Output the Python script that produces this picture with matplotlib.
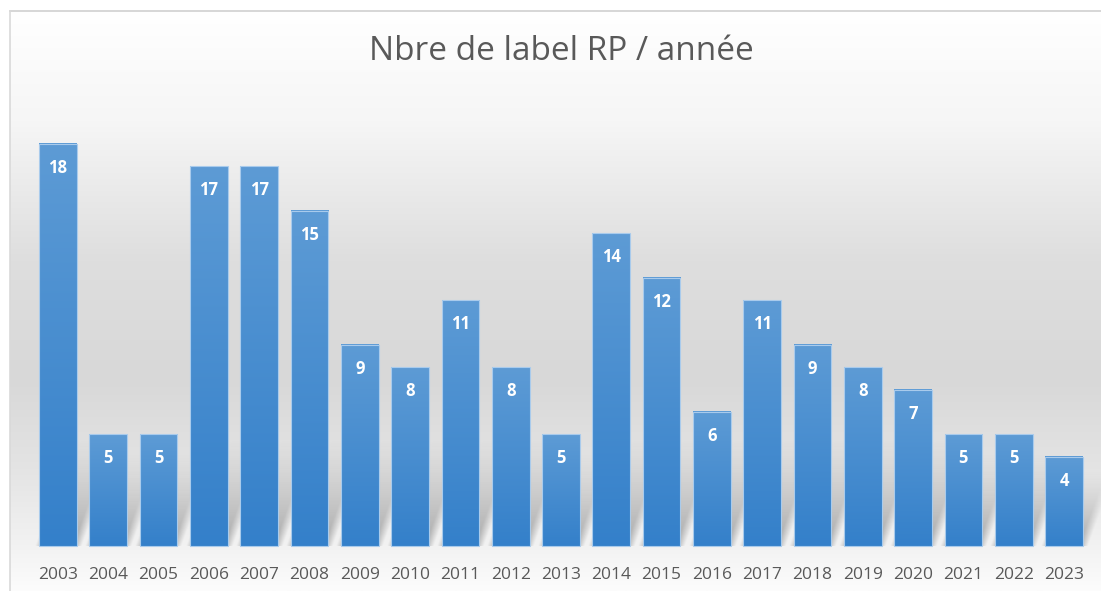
import matplotlib.pyplot as plt
import numpy as np
from matplotlib.patches import Rectangle

years = ['2003', '2004', '2005', '2006', '2007', '2008', '2009', '2010', '2011', '2012',
         '2013', '2014', '2015', '2016', '2017', '2018', '2019', '2020', '2021', '2022', '2023']
labels = [18, 5, 5, 17, 17, 15, 9, 8, 11, 8, 5, 14, 12, 6, 11, 9, 8, 7, 5, 5, 4]
title = 'Nbre de label RP / année'

plt.rcParams['font.family'] = ['Open Sans', 'DejaVu Sans']

fig = plt.figure(figsize=(11.01, 5.91), dpi=100)

# background panel, in pixel coordinates
bg = fig.add_axes([0, 0, 1, 1])
bg.set_xlim(0, 1101)
bg.set_ylim(591, 0)
bg.axis('off')
py = np.linspace(11, 591, 300)
grey = np.interp(py, [11, 120, 260, 380, 470, 546, 591], [255, 246, 222, 216, 228, 242, 252])
grad = np.repeat(grey[:, None], 2, axis=1) / 255.0
bg.imshow(np.dstack([grad, grad, grad]), extent=[10, 1101, 591, 11], aspect='auto', zorder=0)
bg.plot([10, 1101], [11, 11], color='#d0d0d0', lw=1.2, zorder=1)
bg.plot([10, 10], [11, 591], color='#d9d9d9', lw=1.2, zorder=1)

# chart axes on top
ax = fig.add_axes([0, 0, 1, 1])
ax.patch.set_alpha(0)
ax.axis('off')

x = np.arange(len(years))
w = 0.75
skew = 0.16
soft = 0.09
top_c = np.array([93, 155, 213]) / 255.0
bot_c = np.array([52, 128, 202]) / 255.0

for xi, v in zip(x, labels):
    # soft shadow thrown up and to the right
    sh_h = min(v * 0.85, 4.8)
    x0 = xi - w / 2 - soft
    x1 = xi + w / 2 + soft + sh_h * skew
    gx, gy = np.meshgrid(np.linspace(x0, x1, 120), np.linspace(0, sh_h, 80))
    u = np.abs(gx - (xi + skew * gy))
    ax_alpha = np.clip((w / 2 + soft - u) / (2 * soft), 0, 1)
    ay_alpha = (1 - gy / sh_h) ** 1.3
    simg = np.zeros((80, 120, 4))
    simg[..., :3] = 0.38
    simg[..., 3] = 0.5 * ax_alpha * ay_alpha
    ax.imshow(simg, extent=[x0, x1, 0, sh_h], origin='lower', aspect='auto',
              zorder=1, interpolation='bilinear')

    # bar with vertical gradient
    t = np.linspace(0, 1, 100)[:, None]
    col = bot_c[None, :] * (1 - t) + top_c[None, :] * t
    img = np.repeat(col[:, None, :], 2, axis=1)
    ax.imshow(img, extent=[xi - w / 2, xi + w / 2, 0, v], origin='lower',
              aspect='auto', zorder=2, interpolation='bilinear')
    ax.add_patch(Rectangle((xi - w / 2, 0), w, v, facecolor='none',
                           edgecolor='#a9cbec', lw=0.8, zorder=3))
    ax.text(xi, v - 1.08, str(v), ha='center', va='center', color='white',
            fontsize=12, fontweight='bold', zorder=4)
    ax.text(xi, -1.3, years[xi], ha='center', va='center', color='#595959',
            fontsize=12.5, zorder=4)

ax.set_xlim(-58 / 50.3, (1101 - 58) / 50.3)
ax.set_ylim(-45 / 22.35, (591 - 45) / 22.35)

fig.text(561 / 1101, 1 - 52 / 591, title, ha='center', va='center',
         color='#595959', fontsize=24)

fig.savefig('out.png', dpi=100)
